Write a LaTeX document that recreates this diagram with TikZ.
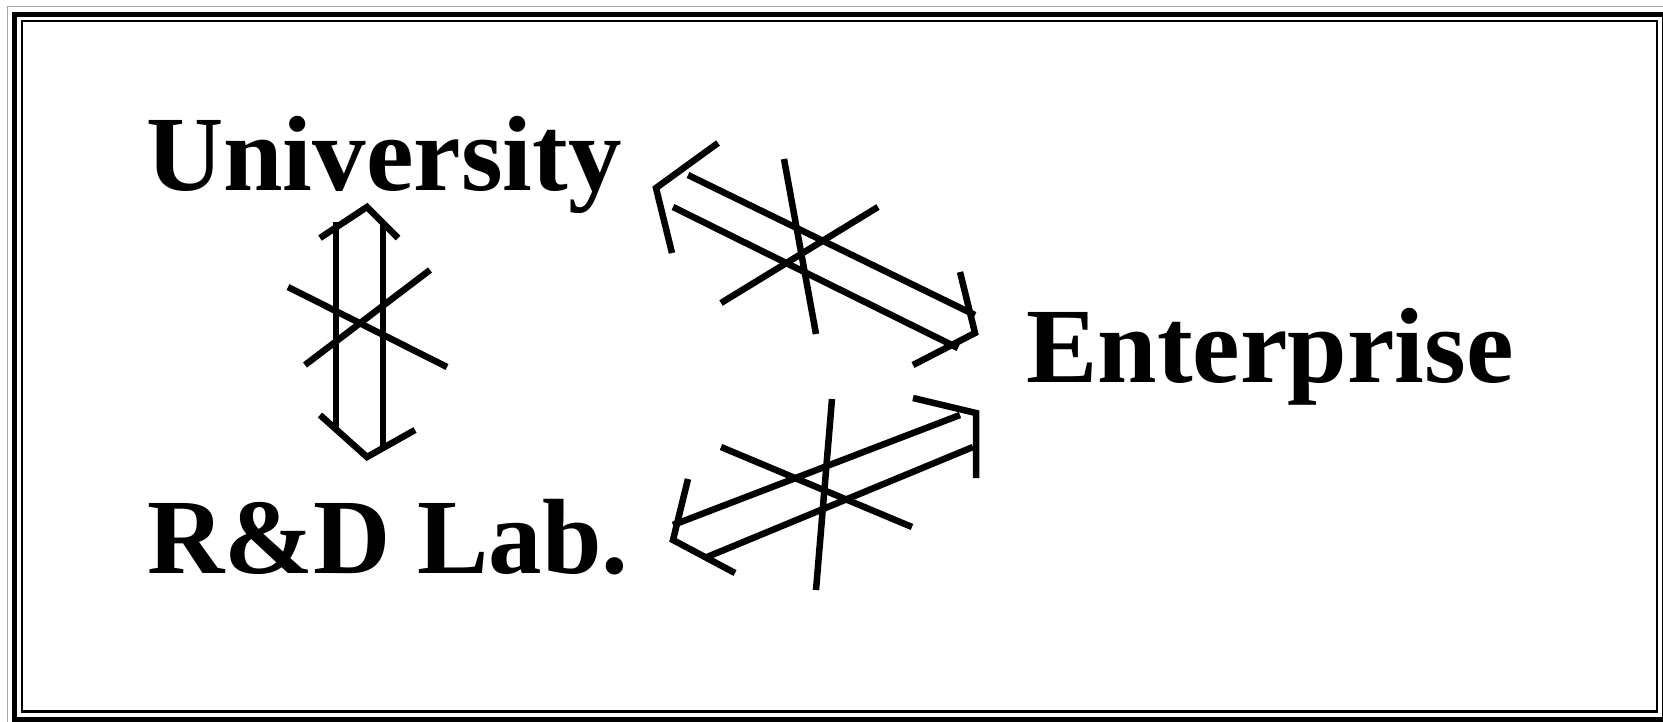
\documentclass[tikz,border=0pt]{standalone}
\usepackage{fontspec}
\setmainfont{Liberation Serif}
\begin{document}
\begin{tikzpicture}[x=1pt,y=-1pt,
  stroke/.style={line width=6.5pt,line cap=butt,line join=miter,black},
  label/.style={inner sep=0pt,anchor=base west,font=\fontsize{107}{110}\selectfont\bfseries}]
\useasboundingbox (0,0) rectangle (1663,721);
\begin{scope}
\clip (0,0) rectangle (1663,721);
\draw[gray!70,line width=1.5pt] (7.3,6.5) rectangle (1672,727);
\draw[black,line width=5pt] (14,14.5) rectangle (1664.5,719);
\draw[black,line width=2.5pt] (22,21) rectangle (1657,711.5);
\end{scope}
% labels
\node[label] (uni) at (146,190) {University};
\node[label] (rd) at (147,573) {R\&D Lab.};
\node[label] (ent) at (1026,382) {Enterprise};
% vertical crossed double arrow
\draw[stroke] (336,222) -- (336,430);
\draw[stroke] (383,223) -- (383,447);
\draw[stroke] (320,238) -- (367,207) -- (398,238);
\draw[stroke] (320,415) -- (367,457) -- (415,430);
\draw[stroke] (288,287) -- (447,367);
\draw[stroke] (430,270) -- (305,365);
% upper diagonal crossed double arrow
\draw[stroke] (718,143) -- (656,188) -- (672,253);
\draw[stroke] (688,175) -- (975,315);
\draw[stroke] (673,207) -- (958,348);
\draw[stroke] (960,272) -- (975,333) -- (913,365);
\draw[stroke] (784,159) -- (816,334);
\draw[stroke] (878,207) -- (721,303);
% lower diagonal crossed double arrow
\draw[stroke] (913,398) -- (976,413) -- (976,478);
\draw[stroke] (960,415) -- (673,525);
\draw[stroke] (973,447) -- (707,557);
\draw[stroke] (688,479) -- (673,540) -- (735,573);
\draw[stroke] (832,399) -- (816,590);
\draw[stroke] (721,447) -- (912,527);
\end{tikzpicture}
\end{document}
